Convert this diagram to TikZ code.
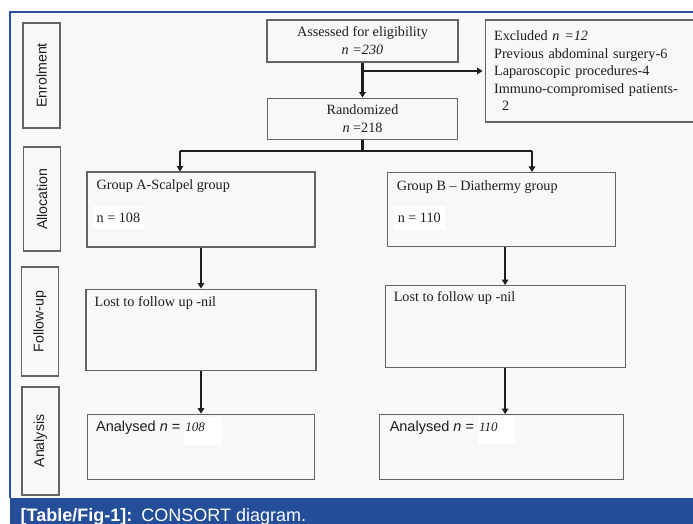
\documentclass[tikz,border=0pt]{standalone}
\usepackage{fontspec}
\setmainfont{Liberation Serif}
\setsansfont{Liberation Sans}
\usetikzlibrary{arrows.meta,positioning,calc}

\definecolor{frameblue}{RGB}{43,79,158}
\definecolor{bandblue}{RGB}{36,78,154}
\definecolor{paper}{RGB}{247,248,250}
\definecolor{edge}{RGB}{100,100,100}
\definecolor{ink}{RGB}{30,30,30}

\begin{document}
\begin{tikzpicture}[x=1pt, y=-1pt,
  every node/.style={font=\fontsize{14.2}{17.5}\selectfont, text=ink},
  phase/.style={draw=edge, line width=1.2pt, rotate=90, minimum height=37pt,
  font=\sffamily\fontsize{14.2}{17}\selectfont},
  box/.style={draw=edge, line width=1.1pt, inner sep=0pt},
  txt/.style={inner sep=0pt, anchor=west, align=left},
  patch/.style={fill=white, inner xsep=4pt, inner ysep=7pt, anchor=west},
  sans/.style={inner sep=0pt, anchor=base west, font=\sffamily\fontsize{14.5}{17}\selectfont},
  arr/.style={draw=ink, line width=2.3pt, -{Triangle[length=5.5pt, width=6.5pt]}},
  link/.style={draw=ink, line width=2.3pt}
]
\useasboundingbox (0,0) rectangle (693,524);
% page and frame
\fill[white] (0,0) rectangle (693,524);
\fill[paper] (10,12) rectangle (693,498);
\draw[frameblue, line width=1.3pt] (693,12) -- (10,12) -- (10,498);
\fill[bandblue] (10,498) rectangle (693,524);
\node[anchor=base west, inner sep=0pt, text=white, font=\sffamily\fontsize{18}{20}\selectfont]
  (caption) at (20.5,521) {\textbf{[Table/Fig-1]:}\hspace{9pt}CONSORT diagram.};
% phases
\node[phase, minimum width=105pt] (enrol) at (41.5,75.5) {Enrolment};
\node[phase, minimum width=104pt] (alloc) at (42,199) {Allocation};
\node[phase, minimum width=109pt] (follow) at (40,321.5) {Follow-up};
\node[phase, minimum width=108pt] (analysis) at (40.5,441) {Analysis};
% enrolment
\node[box, minimum width=191pt, minimum height=42pt, align=center] (assess) at (362.5,41)
  {Assessed for eligibility\\[0.5pt] \textit{n =230}};
\node[box, minimum width=190pt, minimum height=41pt, align=center, below=35pt of assess] (rand)
  {Randomized\\[0.5pt] \textit{n} =218};
\node[box, minimum width=208pt, minimum height=102pt, text width=190pt, inner xsep=9pt,
  align=left, below right=0pt and 26pt of assess.north east] (excl)
  {Excluded \textit{n =12}\\ Previous abdominal surgery-6\\ Laparoscopic procedures-4\\
   Immuno-compromised patients-\\ \hspace{8pt}2};
% groups
\node[box, minimum width=228pt, minimum height=75pt] (grpA) at (201,209.5) {};
\node[box, minimum width=228pt, minimum height=74pt, right=71pt of grpA] (grpB) {};
\node[txt] (grpAname) at ([shift={(10,15)}]grpA.north west) {Group A-Scalpel group};
\node[patch] (grpAn) at ([shift={(6,46)}]grpA.north west) {n = 108};
\node[txt] (grpBname) at ([shift={(10,15)}]grpB.north west) {Group B -- Diathermy group};
\node[patch] (grpBn) at ([shift={(7,46)}]grpB.north west) {n = 110};
% follow-up
\node[box, minimum width=230pt, minimum height=81pt, below=41pt of grpA] (lostA) {};
\node[box, minimum width=240pt, minimum height=82pt, below=38pt of grpB, xshift=4pt] (lostB) {};
\node[txt] (lostAtxt) at ([shift={(9,14)}]lostA.north west) {Lost to follow up -nil};
\node[txt] (lostBtxt) at ([shift={(9,13)}]lostB.north west) {Lost to follow up -nil};
% analysis
\node[box, minimum width=227pt, minimum height=65pt, below=43pt of lostA] (anaA) {};
\node[box, minimum width=244pt, minimum height=65pt, below=46pt of lostB, xshift=-4pt] (anaB) {};
\node[sans] (anaAtxt) at ([shift={(9,18)}]anaA.north west)
  {Analysed \textit{n} = \fboxsep=1pt\colorbox{white}{\rmfamily\itshape\fontsize{13}{15}\selectfont 108\rule[-12pt]{0pt}{26pt}\hspace{16pt}}};
\node[sans] (anaBtxt) at ([shift={(11,17)}]anaB.north west)
  {Analysed \textit{n} = \fboxsep=1pt\colorbox{white}{\rmfamily\itshape\fontsize{13}{15}\selectfont 110\rule[-12pt]{0pt}{26pt}\hspace{16pt}}};
% connectors
\coordinate (brk) at (assess.south |- excl.west);
\coordinate (splitA) at (180,151);
\coordinate (splitB) at (532,151);
\draw[arr] (assess) -- (rand);
\draw[arr] (brk) -- ([xshift=-2pt]excl.west);
\draw[link] (rand.south) -- (rand.south |- splitA);
\draw[link] (splitA) -- (splitB);
\draw[arr] (splitA) -- (splitA |- grpA.north);
\draw[arr] (splitB) -- (splitB |- grpB.north);
\draw[arr] (grpA.south) -- (grpA.south |- lostA.north);
\draw[arr] (lostB.north |- grpB.south) -- (lostB.north);
\foreach \a/\b in {lostA/anaA, lostB/anaB}
  \draw[arr] (\a.south) -- (\a.south |- \b.north);
\end{tikzpicture}
\end{document}
